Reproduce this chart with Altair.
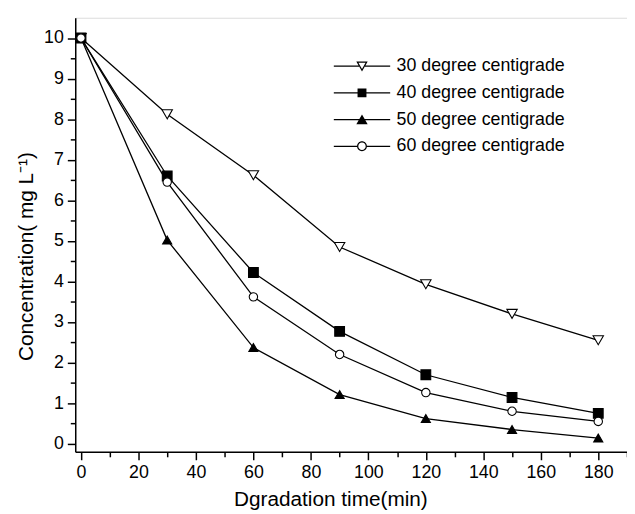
import altair as alt
import pandas as pd

# ---- data ----
times = [0, 30, 60, 90, 120, 150, 180]
series_names = ["30 degree centigrade", "40 degree centigrade",
                "50 degree centigrade", "60 degree centigrade"]
c30 = [10.0, 8.12, 6.62, 4.85, 3.93, 3.20, 2.55]
c40 = [10.0, 6.60, 4.22, 2.77, 1.70, 1.14, 0.75]
c50 = [10.0, 5.02, 2.37, 1.21, 0.62, 0.35, 0.14]
c60 = [10.0, 6.45, 3.62, 2.20, 1.26, 0.80, 0.55]

x_tick_values = list(range(0, 191, 10))
y_tick_values = [i * 0.5 for i in range(0, 21)]

rows = []
for name, vals in zip(series_names, [c30, c40, c50, c60]):
    for t, v in zip(times, vals):
        rows.append({"time": t, "conc": v, "series": name})
df = pd.DataFrame(rows)

FONT = "Liberation Sans"

marker_shapes = ["triangle-down", "square", "triangle-up", "circle"]
marker_fills = ["white", "black", "black", "white"]
marker_sizes = [110, 72, 110, 82]

# legend glyphs: line segment + marker (unit box scaled by sqrt(size)/2)
legend_paths = [
    "M-5.7,-0.13H-0.6V0.13H-5.7Z M0.6,-0.13H5.7V0.13H0.6Z "
    "M-1.15,-0.95L1.15,-0.95L0,1.05Z M-0.72,-0.7L0,0.55L0.72,-0.7Z",
    "M-5.7,-0.13H5.7V0.13H-5.7Z M-0.9,-0.9H0.9V0.9H-0.9Z",
    "M-5.7,-0.13H5.7V0.13H-5.7Z M0,-1.05L1.15,0.95L-1.15,0.95Z",
    "M-5.7,-0.13H-1V0.13H-5.7Z M1,-0.13H5.7V0.13H1Z "
    "M-1,0A1,1 0 1,1 1,0A1,1 0 1,1 -1,0Z M-0.75,0A0.75,0.75 0 1,0 0.75,0A0.75,0.75 0 1,0 -0.75,0Z",
]

x_enc = alt.X(
    "time:Q",
    scale=alt.Scale(domain=[-2, 190], nice=False, zero=False),
    axis=alt.Axis(
        values=x_tick_values, format="d",
        labelExpr="datum.value % 20 === 0 ? datum.label : ''",
        tickSize={"condition": {"test": "datum.value % 20 === 0", "value": 8}, "value": 5},
        title="Dgradation time(min)",
        grid=False, labelFlush=False,
        domainColor="black", domainWidth=1.5,
        tickColor="black", tickWidth=1.5,
        labelColor="black", labelFont=FONT, labelFontSize=18, labelPadding=4,
        titleColor="black", titleFont=FONT, titleFontSize=21, titleFontWeight="normal",
        titleX=258, titleY=54, titleAlign="center", titleBaseline="alphabetic",
    ),
)
y_enc = alt.Y(
    "conc:Q",
    scale=alt.Scale(domain=[-0.2, 10.5], nice=False, zero=False),
    axis=alt.Axis(
        values=y_tick_values, format=".0f",
        labelExpr="datum.value % 1 === 0 ? datum.label : ''",
        tickSize={"condition": {"test": "datum.value % 1 === 0", "value": 8}, "value": 5},
        title="Concentration( mg L⁻¹)",
        grid=False, labelFlush=False,
        domainColor="black", domainWidth=1.5,
        tickColor="black", tickWidth=1.5,
        labelColor="black", labelFont=FONT, labelFontSize=18, labelPadding=4,
        titleColor="black", titleFont=FONT, titleFontSize=21, titleFontWeight="normal",
        titleX=-43, titleY=241, titleAngle=270, titleAlign="center", titleBaseline="alphabetic",
    ),
)

lines = alt.Chart(df).mark_line(color="black", strokeWidth=1.3).encode(
    x=x_enc, y=y_enc, detail="series:N"
)

points = alt.Chart(df).mark_point(filled=True, stroke="black", strokeWidth=1.1, opacity=1).encode(
    x=x_enc, y=y_enc,
    shape=alt.Shape("series:N", scale=alt.Scale(domain=series_names, range=marker_shapes), legend=None),
    fill=alt.Fill("series:N", scale=alt.Scale(domain=series_names, range=marker_fills), legend=None),
    size=alt.Size("series:N", scale=alt.Scale(domain=series_names, range=marker_sizes), legend=None),
)

legend_layer = alt.Chart(df).mark_point(filled=True, color="black", opacity=0).encode(
    x=x_enc, y=y_enc,
    shape=alt.Shape(
        "series:N",
        scale=alt.Scale(domain=series_names, range=legend_paths),
        legend=alt.Legend(
            title=None, orient="none", legendX=281, legendY=40,
            symbolSize=100, symbolFillColor="black", symbolStrokeWidth=0, symbolOpacity=1,
            labelFont=FONT, labelFontSize=18, labelColor="black", labelOffset=26,
            labelLimit=400, rowPadding=9, padding=0,
        ),
    ),
)

chart = alt.layer(lines, points, legend_layer).resolve_scale(shape="independent").properties(
    width=558, height=439,
    autosize=alt.AutoSizeParams(type="none"),
    padding={"left": 68, "top": 7, "right": 0, "bottom": 60},
).configure_view(stroke=None).configure(background="white")

chart.save("out.html", embed_options={"renderer": "svg", "actions": False})
